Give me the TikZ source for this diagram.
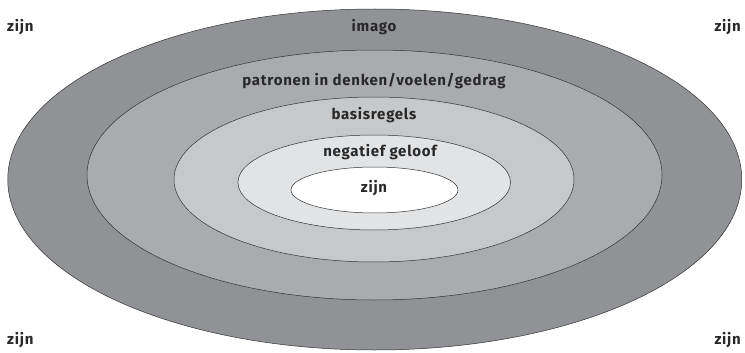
\documentclass[tikz,border=0pt]{standalone}
\usepackage{fontspec}
\setmainfont{Fira Sans}[LetterSpace=5]
\definecolor{ringA}{RGB}{145,146,150}
\definecolor{ringB}{RGB}{170,171,174}
\definecolor{ringC}{RGB}{199,200,202}
\definecolor{ringD}{RGB}{226,227,229}
\definecolor{txt}{RGB}{40,40,40}
\begin{document}
\begin{tikzpicture}[x=1pt,y=-1pt,
  ring/.style={draw=black!80,line width=0.5pt},
  lbl/.style={anchor=base,inner sep=0pt,text=txt,font=\fontsize{15}{17}\selectfont\bfseries}]
\useasboundingbox (0,0) rectangle (745,353);
\path[ring,fill=ringA] (374.75,179.5) ellipse [x radius=367,y radius=170.5];
\path[ring,fill=ringB] (374.5,175) ellipse [x radius=287.5,y radius=125];
\path[ring,fill=ringC] (374,179.5) ellipse [x radius=200,y radius=82.5];
\path[ring,fill=ringD] (374.2,182.5) ellipse [x radius=136.3,y radius=47.5];
\path[ring,fill=white] (374.5,190) ellipse [x radius=83.5,y radius=23];
\node[lbl] (imago) at (374,32) {imago};
\node[lbl] (patronen) at (374,86) {patronen in denken/voelen/gedrag};
\node[lbl] (basis) at (374,119) {basisregels};
\node[lbl] (negatief) at (380,157) {negatief geloof};
\node[lbl] (kern) at (374,192) {zijn};
\node[lbl,anchor=base west] (tl) at (7,32) {zijn};
\node[lbl,anchor=base east] (tr) at (741,32) {zijn};
\node[lbl,anchor=base west] (bl) at (7,344) {zijn};
\node[lbl,anchor=base east] (br) at (741,344) {zijn};
\end{tikzpicture}
\end{document}
